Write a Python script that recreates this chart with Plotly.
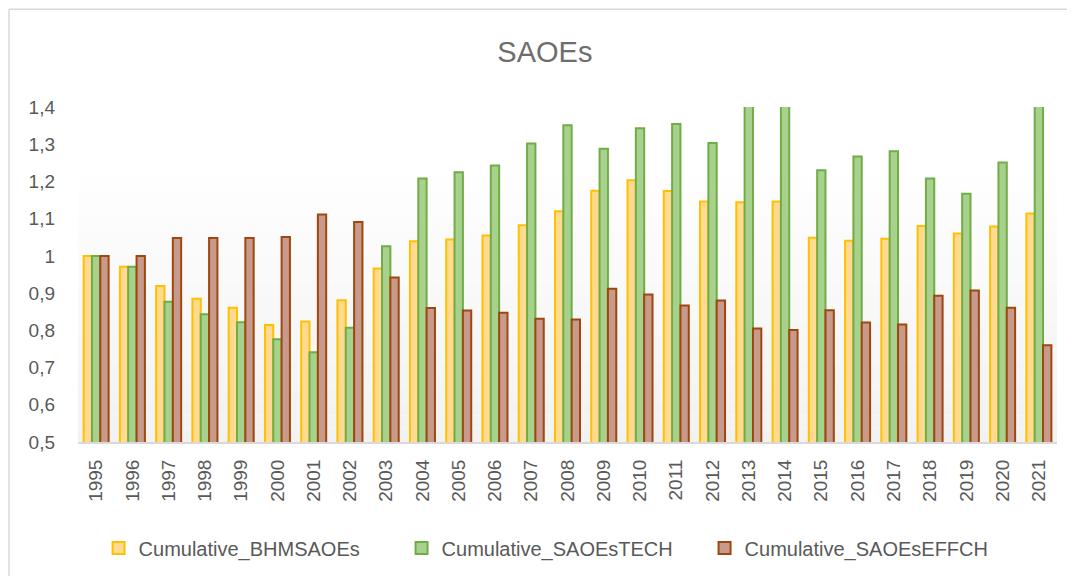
import plotly.graph_objects as go

years = [str(y) for y in range(1995, 2022)]
bhm = [1.000, 0.971, 0.919, 0.885, 0.861, 0.814, 0.824, 0.881, 0.966, 1.039,
       1.044, 1.055, 1.082, 1.120, 1.175, 1.203, 1.174, 1.146, 1.144, 1.146,
       1.049, 1.041, 1.046, 1.080, 1.060, 1.079, 1.114]
tech = [1.000, 0.971, 0.877, 0.843, 0.822, 0.776, 0.741, 0.807, 1.026, 1.208,
        1.225, 1.243, 1.302, 1.351, 1.288, 1.343, 1.354, 1.303, 1.450, 1.470,
        1.230, 1.267, 1.281, 1.208, 1.167, 1.251, 1.440]
effch = [1.000, 1.000, 1.048, 1.048, 1.048, 1.051, 1.111, 1.091, 0.942, 0.860,
         0.853, 0.847, 0.831, 0.829, 0.912, 0.896, 0.867, 0.880, 0.805, 0.801,
         0.854, 0.821, 0.816, 0.893, 0.907, 0.861, 0.760]
y_tickvals = [0.5, 0.6, 0.7, 0.8, 0.9, 1.0, 1.1, 1.2, 1.3, 1.4]
y_ticktext = ["0,5", "0,6", "0,7", "0,8", "0,9", "1", "1,1", "1,2", "1,3", "1,4"]

FONT = "Liberation Sans"
GREY = "#595959"

fig = go.Figure()
fig.add_trace(go.Bar(x=years, y=bhm, name="Cumulative_BHMSAOEs",
                     marker=dict(color="#FFDA90", line=dict(color="#FFC000", width=2))))
fig.add_trace(go.Bar(x=years, y=tech, name="Cumulative_SAOEsTECH",
                     marker=dict(color="#A9D18E", line=dict(color="#70AD47", width=2))))
fig.add_trace(go.Bar(x=years, y=effch, name="Cumulative_SAOEsEFFCH",
                     marker=dict(color="#C79A8B", line=dict(color="#9E480E", width=2))))

shapes = []
# subtle vertical gradient in plot background
n = 20
top = 0.79
for i in range(n):
    y0 = top * i / n
    y1 = top * (i + 1) / n
    t = i / (n - 1)
    c = int(round(242 + (254 - 242) * t))
    shapes.append(dict(type="rect", xref="paper", yref="paper", x0=0, x1=1, y0=y0, y1=y1,
                       fillcolor=f"rgb({c},{c},{c})", line=dict(width=0), layer="below"))
# chart outer border: only left and top edges are visible in the frame
bx0 = (9 - 78) / 979
bx1 = (1100 - 78) / 979
by0 = (443 - 620) / 336
by1 = (443 - 9) / 336
shapes.append(dict(type="line", xref="paper", yref="paper", x0=bx0, x1=bx1, y0=by1, y1=by1,
                   line=dict(color="#D9D9D9", width=1.5), layer="below"))
shapes.append(dict(type="line", xref="paper", yref="paper", x0=bx0, x1=bx0, y0=by0, y1=by1,
                   line=dict(color="#D9D9D9", width=1.5), layer="below"))

fig.update_layout(
    width=1059, height=568,
    margin=dict(l=70, r=10, t=99, b=133),
    paper_bgcolor="white", plot_bgcolor="white",
    title=dict(text="SAOEs", x=0.507, xanchor="center", y=1 - 44 / 568, yanchor="middle",
               font=dict(family=FONT, size=29, color="#6E6E6E")),
    barmode="group", bargap=0.31, bargroupgap=0,
    font=dict(family=FONT, color=GREY),
    showlegend=True,
    legend=dict(orientation="h", x=0.021, xanchor="left", y=(443 - 548) / 336, yanchor="middle",
                font=dict(family=FONT, size=20, color=GREY), entrywidth=258,
                bgcolor="rgba(0,0,0,0)"),
    shapes=shapes,
)
fig.update_xaxes(type="category", tickangle=-90, showgrid=False, showline=True,
                 linecolor="#D9D9D9", linewidth=2, ticks="", ticklabelstandoff=8,
                 tickfont=dict(family=FONT, size=19, color=GREY))
fig.update_yaxes(range=[0.5, 1.4], tickvals=y_tickvals, ticktext=y_ticktext,
                 showgrid=False, zeroline=False, showline=False, ticks="",
                 ticklabelstandoff=22, tickfont=dict(family=FONT, size=19, color=GREY))

fig.write_html("out.html")
